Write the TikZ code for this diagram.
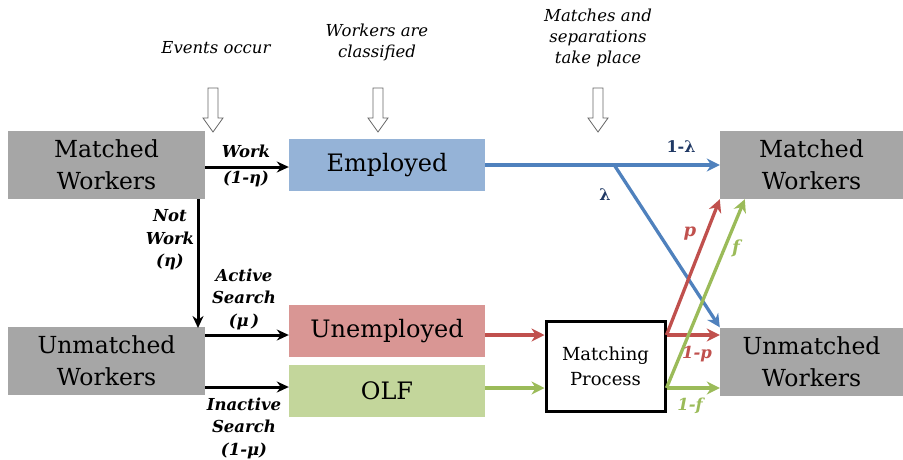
\documentclass[tikz,border=0pt]{standalone}
\usepackage{fontspec}
\setmainfont{DejaVu Serif}
\usetikzlibrary{arrows.meta}
\definecolor{gbox}{RGB}{166,166,166}
\definecolor{bbox}{RGB}{149,179,215}
\definecolor{rbox}{RGB}{217,150,148}
\definecolor{grbox}{RGB}{195,214,155}
\definecolor{bline}{RGB}{79,129,189}
\definecolor{rline}{RGB}{192,80,77}
\definecolor{gline}{RGB}{155,187,89}
\definecolor{dblue}{RGB}{31,56,100}
\begin{document}
\begin{tikzpicture}[x=1pt,y=-1pt,
  grey/.style={fill=gbox,minimum width=197pt,minimum height=68pt,inner sep=0pt,align=center,font=\fontsize{23.5}{32}\selectfont},
  state/.style={minimum width=196pt,minimum height=52pt,inner sep=0pt,font=\fontsize{24}{28}\selectfont},
  blk/.style={-{Stealth[length=12pt,width=11pt]},line width=3pt},
  col/.style={-{Stealth[length=13pt,width=13pt]},line width=3.3pt},
  lab/.style={font=\fontsize{16.5}{22.5}\selectfont\bfseries\itshape,align=center},
  top/.style={font=\fontsize{16.5}{21}\selectfont\itshape,align=center},
  hollow/.style={draw=black!60,line width=0.8pt,fill=white}]
\useasboundingbox (0,0) rectangle (903,459);
% grey boxes
\node[grey] (lM) at (106.5,165) {Matched\\Workers};
\node[grey] (lU) at (106.5,361) {Unmatched\\Workers};
\node[grey,minimum width=183pt] (rM) at (811.5,165) {Matched\\Workers};
\node[grey,minimum width=183pt] (rU) at (811.5,361.5) {Unmatched\\Workers};
% state boxes
\node[state,fill=bbox] (emp) at (387,165) {Employed};
\node[state,fill=rbox] (unemp) at (387,331) {Unemployed};
\node[state,fill=grbox] (olf) at (387,391) {OLF};
\node[draw,line width=3pt,minimum width=119pt,minimum height=90pt,align=center,inner sep=0pt,font=\fontsize{18}{25}\selectfont] (mp) at (605.5,366) {Matching\\Process};
% top labels
\node[top] (t1) at (216,48) {Events occur};
\node[top] (t2) at (377,42) {Workers are\\classified};
\node[top] (t3) at (598,38) {Matches and\\separations\\take place};
% hollow arrows
\foreach \x in {213,378,598}{
  \draw[hollow] (\x-5,88) -- (\x+5,88) -- (\x+5,118) -- (\x+10,118) -- (\x,132) -- (\x-10,118) -- (\x-5,118) -- cycle;
}
% black arrows
\draw[blk] (lM.east |- 0,167) -- (emp.west |- 0,167);
\node[lab] (lw) at (246,151) {Work};
\node[lab] (lw2) at (246,179) {(1-η)};
\draw[blk] (198,199) -- (198,328);
\node[lab] (lnw) at (170,240) {Not\\Work\\(η)};
\draw[blk] (lU.east |- 0,335) -- (unemp.west |- 0,335);
\node[lab] (las) at (244,299) {Active\\Search\\(μ\,)};
\draw[blk] (lU.east |- 0,387) -- (olf.west |- 0,387);
\node[lab] (lis) at (244,428) {Inactive\\Search\\(1-μ)};
% blue
\draw[col,bline] (emp.east) -- (emp.east -| rM.west) coordinate[pos=0.55] (split);
\draw[col,bline] (split) -- (rU.north west);
\node[dblue,font=\fontsize{16}{18}\selectfont\bfseries] (l1) at (681,147) {1-λ};
\node[dblue,font=\fontsize{16}{18}\selectfont\bfseries] (l2) at (605,195) {λ};
% red/green to matching
\draw[col,rline] (unemp.east |- 0,335) -- (mp.west |- 0,335);
\draw[col,gline] (olf.east |- 0,388) -- (mp.west |- 0,388);
% out of matching
\draw[col,rline] (mp.east |- 0,335) -- (rU.west |- 0,335);
\draw[col,rline] (mp.east |- 0,335) -- (rM.south west);
\draw[col,gline] (mp.east |- 0,388) -- (rU.west |- 0,388);
\draw[col,gline] (mp.east |- 0,388) -- ([xshift=25pt]rM.south west);
\node[lab,rline,font=\fontsize{18}{20}\selectfont\bfseries\itshape] (lp) at (690,234) {p};
\node[lab,gline,font=\fontsize{18}{20}\selectfont\bfseries\itshape] (lf) at (736,248) {f};
\node[lab,rline] (l1p) at (697,354) {1-p};
\node[lab,gline] (l1f) at (690,406) {1-f};
\end{tikzpicture}
\end{document}
